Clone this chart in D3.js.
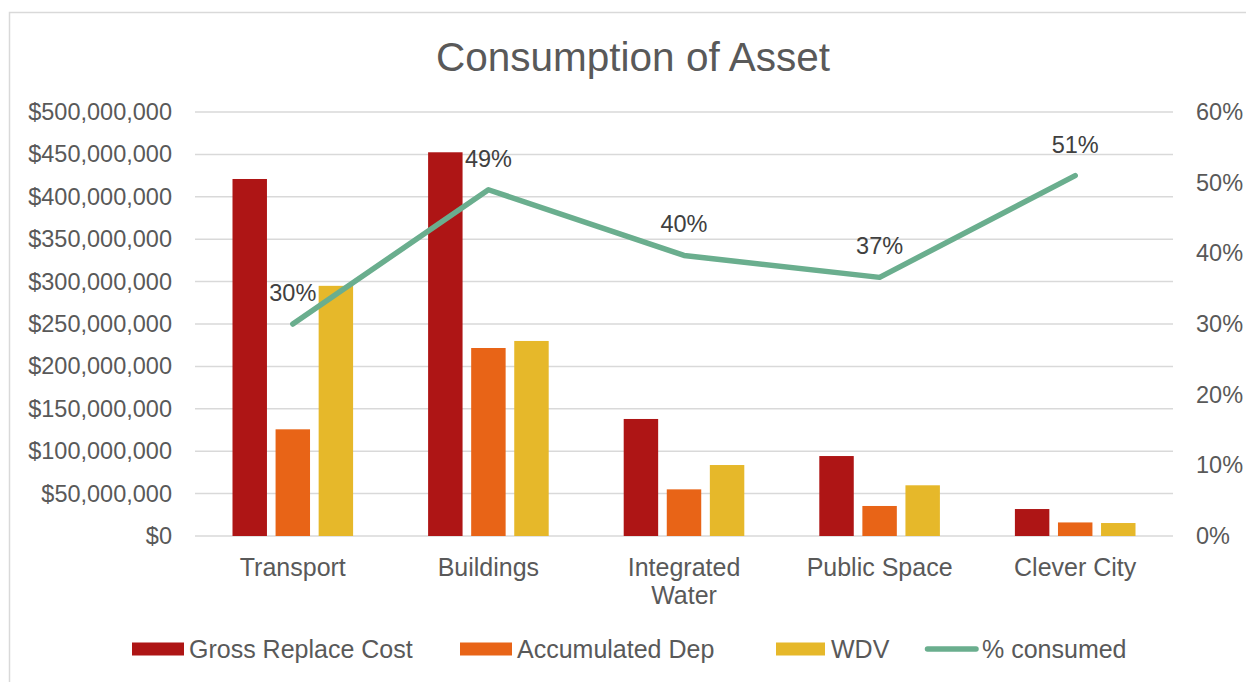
<!DOCTYPE html>
<html>
<head>
<meta charset="utf-8">
<script src="https://cdn.jsdelivr.net/npm/d3@7"></script>
<style>
  body { margin: 0; background: #fff; }
  text { font-family: "Liberation Sans", Arial, sans-serif; fill: #595959; }
</style>
</head>
<body>
<div id="chart"></div>
<script>
// chart data
const categories = ["Transport", "Buildings", "Integrated Water", "Public Space", "Clever City"];
const grossReplaceCost = [421000000, 452500000, 138000000, 94300000, 31800000];
const accumulatedDep = [125800000, 221700000, 55000000, 35400000, 16000000];
const wdv = [295000000, 230000000, 83700000, 59800000, 15300000];
const pctConsumed = [0.30, 0.49, 0.397, 0.366, 0.51];
const leftTicks = [0, 50e6, 100e6, 150e6, 200e6, 250e6, 300e6, 350e6, 400e6, 450e6, 500e6];
const rightTicks = [0, 0.1, 0.2, 0.3, 0.4, 0.5, 0.6];

const seriesNames = ["Gross Replace Cost", "Accumulated Dep", "WDV"];
const seriesColors = ["#AE1515", "#E86417", "#E6B82A"];
const lineColor = "#6AAE8E";

const width = 1246;
const height = 682;
const margin = { top: 112, right: 73, bottom: 146, left: 195 };

const svg = d3.select("#chart").append("svg")
    .attr("width", width)
    .attr("height", height);

// chart area border
svg.append("rect")
    .attr("x", 9.5)
    .attr("y", 12.5)
    .attr("width", 1260)
    .attr("height", 700)
    .attr("fill", "none")
    .attr("stroke", "#D9D9D9")
    .attr("stroke-width", 1.5);

svg.append("text")
    .attr("x", 633)
    .attr("y", 71)
    .attr("text-anchor", "middle")
    .style("font-size", "40.5px")
    .text("Consumption of Asset");

const x = d3.scaleBand()
    .domain(categories)
    .range([margin.left, width - margin.right])
    .paddingInner(0)
    .paddingOuter(0);

const x1 = d3.scaleBand()
    .domain(seriesNames)
    .range([37.5, x.bandwidth() - 37.5])
    .paddingInner(0.2);

const y = d3.scaleLinear()
    .domain([0, 500000000])
    .range([height - margin.bottom, margin.top]);

const y2 = d3.scaleLinear()
    .domain([0, 0.6])
    .range([height - margin.bottom, margin.top]);

// gridlines
svg.append("g")
    .selectAll("line")
    .data(leftTicks)
    .join("line")
    .attr("x1", margin.left)
    .attr("x2", width - margin.right)
    .attr("y1", d => y(d))
    .attr("y2", d => y(d))
    .attr("stroke", "#D9D9D9")
    .attr("stroke-width", 1.5);

// left axis
const fmt = d3.format("$,.0f");
const leftAxis = svg.append("g")
    .attr("transform", `translate(${margin.left - 23},0)`)
    .call(d3.axisLeft(y).tickValues(leftTicks).tickFormat(fmt).tickSize(0).tickPadding(0));
leftAxis.select(".domain").remove();
leftAxis.selectAll("text")
    .style("font-size", "23.5px")
    .style("font-family", '"Liberation Sans", Arial, sans-serif')
    .attr("fill", "#595959");

// right axis
const rightAxis = svg.append("g")
    .attr("transform", `translate(${width - margin.right + 23},0)`)
    .call(d3.axisRight(y2).tickValues(rightTicks).tickFormat(d3.format(".0%")).tickSize(0).tickPadding(0));
rightAxis.select(".domain").remove();
rightAxis.selectAll("text")
    .style("font-size", "23.5px")
    .style("font-family", '"Liberation Sans", Arial, sans-serif')
    .attr("fill", "#595959");

// bars
const barData = categories.map((c, i) => ({
    cat: c,
    values: [grossReplaceCost[i], accumulatedDep[i], wdv[i]]
}));

const groups = svg.append("g")
    .selectAll("g")
    .data(barData)
    .join("g")
    .attr("transform", d => `translate(${x(d.cat)},0)`);

groups.selectAll("rect")
    .data(d => d.values.map((v, j) => ({ name: seriesNames[j], value: v, color: seriesColors[j] })))
    .join("rect")
    .attr("x", d => x1(d.name))
    .attr("y", d => y(d.value))
    .attr("width", x1.bandwidth())
    .attr("height", d => y(0) - y(d.value))
    .attr("fill", d => d.color);

// category labels
const catLabels = svg.append("g")
    .selectAll("text")
    .data(categories)
    .join("text")
    .attr("x", d => x(d) + x.bandwidth() / 2)
    .attr("y", 576)
    .attr("text-anchor", "middle")
    .style("font-size", "25px");

catLabels.each(function(d) {
    const el = d3.select(this);
    const lines = d === "Integrated Water" ? ["Integrated", "Water"] : [d];
    lines.forEach((t, k) => {
        el.append("tspan")
            .attr("x", x(d) + x.bandwidth() / 2)
            .attr("dy", k === 0 ? 0 : 28)
            .text(t);
    });
});

// % consumed line
const lineData = categories.map((c, i) => ({ cat: c, value: pctConsumed[i] }));
const line = d3.line()
    .x(d => x(d.cat) + x.bandwidth() / 2)
    .y(d => y2(d.value));

svg.append("path")
    .datum(lineData)
    .attr("d", line)
    .attr("fill", "none")
    .attr("stroke", lineColor)
    .attr("stroke-width", 5.5)
    .attr("stroke-linejoin", "round")
    .attr("stroke-linecap", "round");

svg.append("g")
    .selectAll("text")
    .data(lineData)
    .join("text")
    .attr("x", d => x(d.cat) + x.bandwidth() / 2)
    .attr("y", d => y2(d.value) - 23)
    .attr("text-anchor", "middle")
    .style("font-size", "23.5px")
    .style("fill", "#404040")
    .text(d => d3.format(".0%")(d.value));

// legend
const legendX = [132, 460, 776, 925];
const legendNames = [...seriesNames, "% consumed"];
const legend = svg.append("g")
    .selectAll("g")
    .data(legendNames)
    .join("g")
    .attr("transform", (d, i) => `translate(${legendX[i]},649)`);

legend.each(function(d, i) {
    const g = d3.select(this);
    if (i < 3) {
        g.append("rect")
            .attr("x", 0)
            .attr("y", -6.5)
            .attr("width", i === 2 ? 49 : 52)
            .attr("height", 13)
            .attr("fill", seriesColors[i]);
    } else {
        g.append("line")
            .attr("x1", 2.5)
            .attr("x2", 51)
            .attr("y1", 0)
            .attr("y2", 0)
            .attr("stroke", lineColor)
            .attr("stroke-width", 5.5)
            .attr("stroke-linecap", "round");
    }
    g.append("text")
        .attr("x", i === 2 ? 55 : 57)
        .attr("y", 9)
        .style("font-size", "25px")
        .text(d);
});
</script>
</body>
</html>
